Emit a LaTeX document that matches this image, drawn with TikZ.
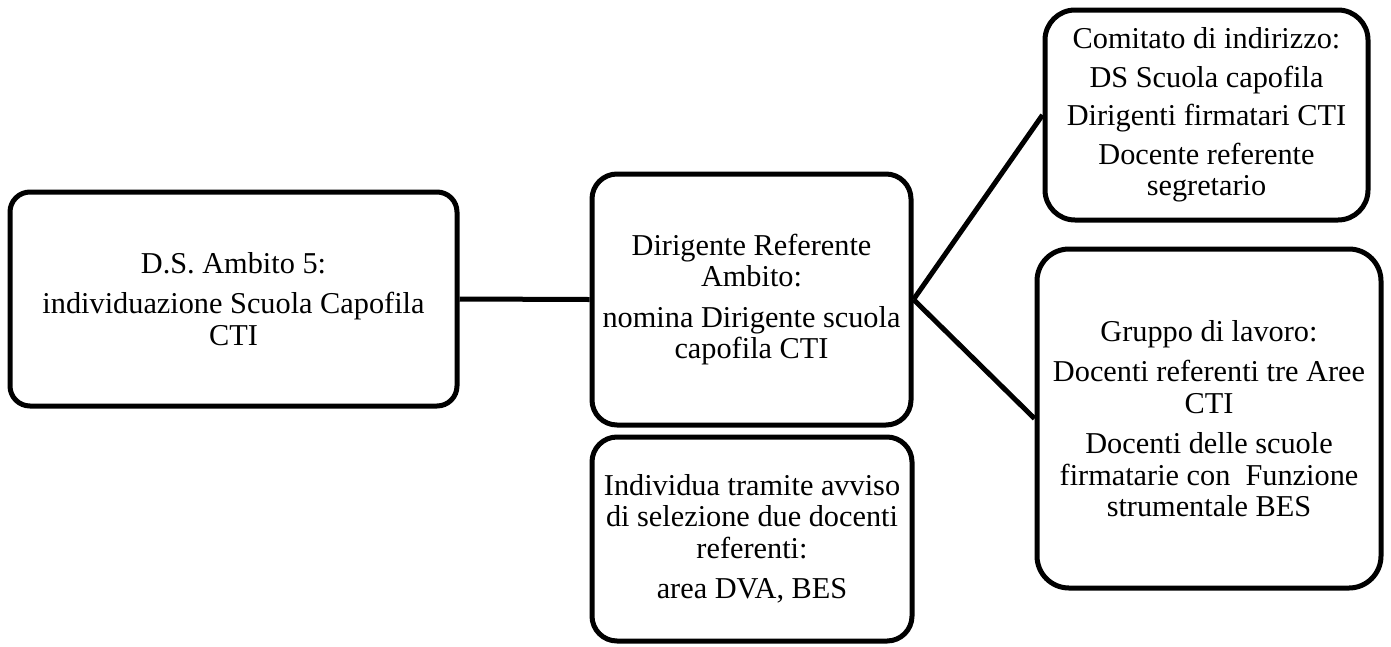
\documentclass[tikz,border=0pt]{standalone}
\usepackage{fontspec}
\setmainfont{Liberation Serif}
\begin{document}
\begin{tikzpicture}[x=1pt,y=-1pt,
    box/.style={draw,line width=5pt,rounded corners=25pt,align=center,inner sep=0pt,
      font=\fontsize{30.3}{31.5}\selectfont},
    link/.style={line width=5pt}]
  \useasboundingbox (0,0) rectangle (1391,646);

  \node [box,minimum width=447pt,minimum height=214pt,rounded corners=20pt] (ds ambito) at (233.5,299)
    {D.S. Ambito 5:\\[9pt] individuazione Scuola Capofila\\ CTI};
  \node [box,minimum width=319pt,minimum height=251pt] (dirigente) at (751.5,299.5)
    {Dirigente Referente\\ Ambito:\\[9pt] nomina Dirigente scuola\\ capofila CTI};
  \node [box,minimum width=320pt,minimum height=204pt] (individua) at (752,539)
    {Individua tramite avviso\\ di selezione due docenti\\ referenti:\\[9pt] area DVA, BES};
  \node [box,minimum width=323pt,minimum height=210pt,rounded corners=30pt] (comitato) at (1206.5,115)
    {Comitato di indirizzo:\\[7pt] DS Scuola capofila\\[7pt] Dirigenti firmatari CTI\\[7pt]
     Docente referente\\ segretario};
  \node [box,minimum width=344pt,minimum height=339pt,rounded corners=32pt] (gruppo) at (1209,418.5)
    {Gruppo di lavoro:\\[9pt] Docenti referenti tre Aree\\ CTI\\[9pt]
     Docenti delle scuole\\ firmatarie con~ Funzione\\ strumentale BES};

  \draw [link] (ds ambito.east) -- (dirigente.west);
  \draw [link] (dirigente.east) -- (comitato.west);
  \draw [link] (dirigente.east) -- (gruppo.west);
\end{tikzpicture}
\end{document}
